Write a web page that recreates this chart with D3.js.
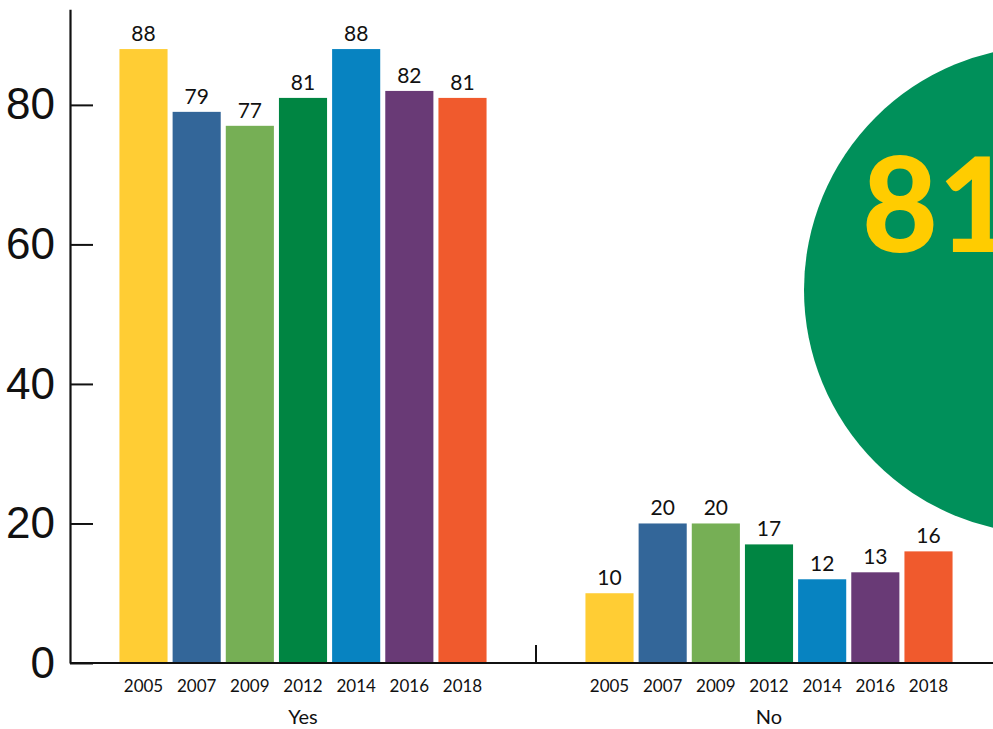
<!DOCTYPE html>
<html>
<head>
<meta charset="utf-8">
<script src="https://cdn.jsdelivr.net/npm/d3@7"></script>
<style>
  html, body { margin: 0; padding: 0; background: #fff; }
  svg { display: block; }
</style>
</head>
<body>
<svg id="chart" width="993" height="729"></svg>
<script>
const groups = ["Yes", "No"];
const years = ["2005", "2007", "2009", "2012", "2014", "2016", "2018"];
const yesValues = [88, 79, 77, 81, 88, 82, 81];
const noValues = [10, 20, 20, 17, 12, 13, 16];
const yearColors = ["#FFCD34", "#336699", "#76AF55", "#008542", "#0783C1", "#693A76", "#F05A2D"];
const yTicks = [0, 20, 40, 60, 80];
const highlightValue = "81";

const seriesByGroup = { Yes: yesValues, No: noValues };

const svg = d3.select("#chart");
const left = 70, right = 1002, baseY = 663, topY = 9.3;

const y = d3.scaleLinear().domain([0, 93.7]).range([baseY, topY]);
const x0 = d3.scaleBand().domain(groups).range([left, right]).padding(0);
const x1 = d3.scaleBand().domain(years).range([0, x0.bandwidth()])
  .paddingInner(0.095).paddingOuter(0.93);
const color = d3.scaleOrdinal().domain(years).range(yearColors);

// bars
const g = svg.append("g");
groups.forEach(grp => {
  const gg = g.append("g").attr("transform", `translate(${x0(grp)},0)`);
  const data = years.map((yr, i) => ({ yr, v: seriesByGroup[grp][i] }));
  gg.selectAll("rect").data(data).join("rect")
    .attr("x", d => x1(d.yr))
    .attr("y", d => y(d.v))
    .attr("width", x1.bandwidth())
    .attr("height", d => y(0) - y(d.v))
    .attr("fill", d => color(d.yr));
  gg.selectAll("text.val").data(data).join("text")
    .attr("class", "val")
    .attr("x", d => x1(d.yr) + x1.bandwidth() / 2)
    .attr("y", d => y(d.v) - 8)
    .attr("text-anchor", "middle")
    .attr("font-family", "Lato, 'Noto Sans', sans-serif")
    .attr("font-size", 21)
    .attr("fill", "#111")
    .text(d => d.v);
  gg.selectAll("text.yr").data(data).join("text")
    .attr("class", "yr")
    .attr("x", d => x1(d.yr) + x1.bandwidth() / 2)
    .attr("y", 692)
    .attr("text-anchor", "middle")
    .attr("font-family", "Lato, 'Noto Sans', sans-serif")
    .attr("font-size", 17)
    .attr("fill", "#111")
    .text(d => d.yr);
  gg.append("text")
    .attr("x", x0.bandwidth() / 2)
    .attr("y", 724)
    .attr("text-anchor", "middle")
    .attr("font-family", "Lato, 'Noto Sans', sans-serif")
    .attr("font-size", 20)
    .attr("fill", "#111")
    .text(grp);
});

// x axis baseline and group boundary ticks
svg.append("line")
  .attr("x1", left).attr("x2", 993)
  .attr("y1", y(0)).attr("y2", y(0))
  .attr("stroke", "#111").attr("stroke-width", 2.2);
groups.slice(1).forEach(grp => {
  svg.append("line")
    .attr("x1", x0(grp)).attr("x2", x0(grp))
    .attr("y1", y(0)).attr("y2", y(0) - 18)
    .attr("stroke", "#111").attr("stroke-width", 2);
});

// y axis
const yAxis = d3.axisLeft(y).tickValues(yTicks).tickSizeInner(-23).tickSizeOuter(0).tickPadding(15);
const ya = svg.append("g").attr("transform", `translate(${left},0)`).call(yAxis);
ya.select(".domain").attr("stroke", "#111").attr("stroke-width", 2.2);
ya.selectAll(".tick line").attr("stroke", "#111").attr("stroke-width", 2);
ya.selectAll(".tick text")
  .attr("font-family", "'Liberation Sans', Arial, sans-serif")
  .attr("font-size", 44)
  .attr("fill", "#111");

// highlight circle (the big number runs off the right edge, as in the source)
svg.append("circle")
  .attr("cx", 1048).attr("cy", 290).attr("r", 244)
  .attr("fill", "#00905A");
svg.append("text")
  .attr("x", 862).attr("y", 252)
  .attr("font-family", "Lato, 'Noto Sans', sans-serif")
  .attr("font-weight", 900)
  .attr("font-size", 131)
  .attr("fill", "#FFCC00")
  .text(highlightValue);
</script>
</body>
</html>
